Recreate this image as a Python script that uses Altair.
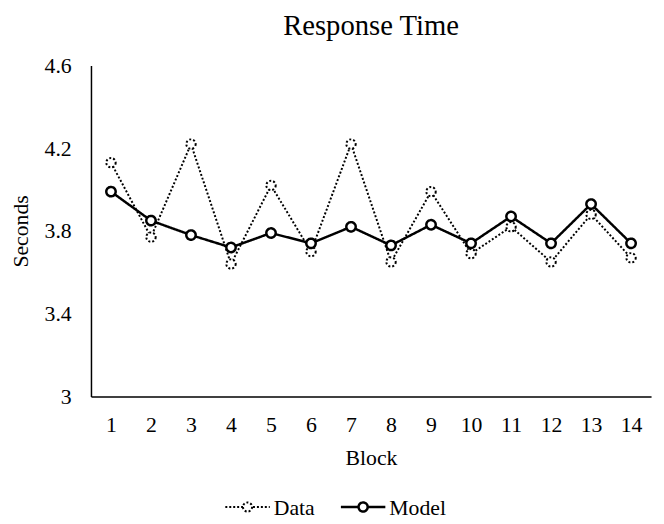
import altair as alt
import pandas as pd

blocks = list(range(1, 15))
data_vals = [4.13, 3.77, 4.22, 3.64, 4.02, 3.70, 4.22, 3.65, 3.99, 3.69, 3.82, 3.65, 3.88, 3.67]
model_vals = [3.99, 3.85, 3.78, 3.72, 3.79, 3.74, 3.82, 3.73, 3.83, 3.74, 3.87, 3.74, 3.93, 3.74]
series = ["Data", "Model"]
y_ticks = [3, 3.4, 3.8, 4.2, 4.6]

rows = []
for name, vals in zip(series, [data_vals, model_vals]):
    for b, v in zip(blocks, vals):
        rows.append({"Block": b, "Seconds": v, "Series": name})
df = pd.DataFrame(rows)

FONT = "Liberation Serif"
DASH = {"Data": [2, 2], "Model": [1, 0]}
WIDTH = {"Data": 2, "Model": 2.5}

x = alt.X("Block:O", scale=alt.Scale(type="point", padding=0.5),
          axis=alt.Axis(title="Block", labelAngle=0, ticks=False, grid=False,
                        domainColor="black", domainWidth=1.5, labelPadding=19,
                        titlePadding=12))
y = alt.Y("Seconds:Q", scale=alt.Scale(domain=[3, 4.6], nice=False, zero=False),
          axis=alt.Axis(title="Seconds", values=y_ticks, format="~g", ticks=False,
                        grid=False, domainColor="black", domainWidth=1.5,
                        labelPadding=20, titlePadding=12))
dash = alt.StrokeDash("Series:N",
                      scale=alt.Scale(domain=series, range=[DASH[s] for s in series]),
                      legend=None)
sw = alt.StrokeWidth("Series:N", scale=alt.Scale(domain=series,
                                                   range=[WIDTH[s] for s in series]),
                     legend=None)

base = alt.Chart(df).encode(x=x, y=y, strokeDash=dash, strokeWidth=sw,
                            detail="Series:N", order=alt.Order("Block:Q"))
lines = base.mark_line(color="black")
points = base.mark_point(shape="circle", filled=False, fill="white", fillOpacity=1,
                         color="black", stroke="black", size=90, opacity=1)

# manual legend (below the plot)
legend_layers = []
leg_y = 447
for name, x0 in zip(series, [136, 253]):
    ld = pd.DataFrame({"Series": [name]})
    c = alt.Chart(ld)
    legend_layers.append(c.mark_rule(color="black", strokeDash=DASH[name],
                                     strokeWidth=WIDTH[name]).encode(
        x=alt.value(x0), x2=alt.value(x0 + 45), y=alt.value(leg_y)))
    legend_layers.append(c.mark_point(shape="circle", filled=False, fill="white",
                                      fillOpacity=1, stroke="black", size=85,
                                      strokeWidth=WIDTH[name], strokeDash=DASH[name],
                                      opacity=1).encode(
        x=alt.value(x0 + 22.5), y=alt.value(leg_y)))
    legend_layers.append(c.mark_text(font=FONT, fontSize=22, align="left",
                                     baseline="middle", color="black").encode(
        x=alt.value(x0 + 49), y=alt.value(leg_y + 1), text="Series:N"))

chart = alt.layer(lines, points, *legend_layers).properties(
    width=567, height=335,
    background="white",
    autosize=alt.AutoSizeParams(type="none"),
    padding={"left": 84, "top": 55, "right": 5, "bottom": 126},
    title=alt.Title("Response Time", fontSize=29, font=FONT, fontWeight="normal",
                    color="black", offset=14, anchor="middle"),
).configure_view(stroke=None).configure_axis(
    labelFont=FONT, titleFont=FONT, labelFontSize=22, titleFontSize=22,
    labelColor="black", titleColor="black", titleFontWeight="normal"
)

chart.save("out.html", embed_options={"renderer": "svg", "actions": False})
